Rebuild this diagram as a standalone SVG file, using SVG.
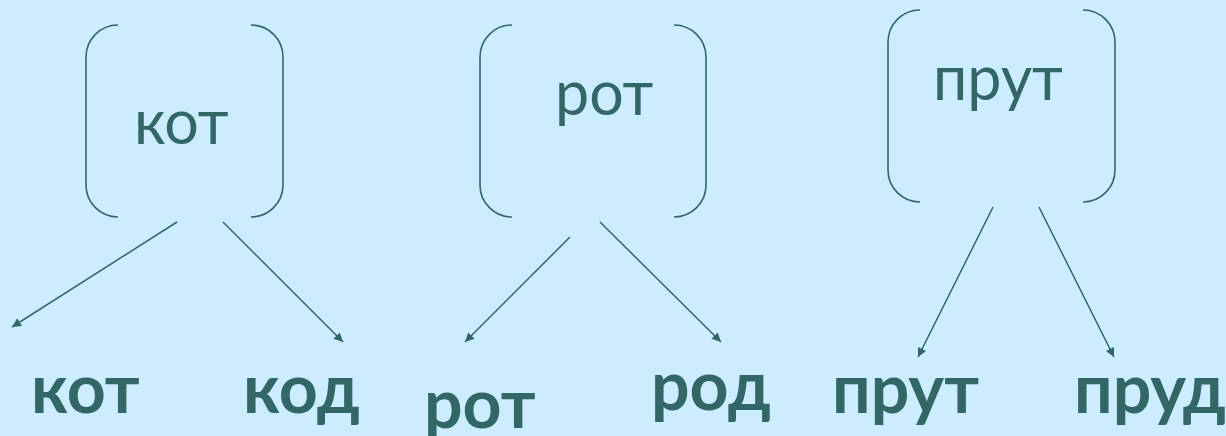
<svg xmlns="http://www.w3.org/2000/svg" width="1226" height="436" viewBox="0 0 1226 436">
<style>
.br{fill:none;stroke:#336666;stroke-width:1.6}
.cn{fill:none;stroke:#336666;stroke-width:1.5;marker-end:url(#ah)}
.t{font-family:"Lato","Open Sans",sans-serif;fill:#336666;font-size:61px}
.b{font-family:"Lato","Open Sans",sans-serif;fill:#336666;font-size:68px;font-weight:bold}
</style>
<defs>
<marker id="ah" viewBox="0 0 10 10" refX="10" refY="5" markerWidth="11" markerHeight="9" markerUnits="userSpaceOnUse" orient="auto">
<path d="M0,0 L10,5 L0,10 Z" fill="#336666"/>
</marker>
</defs>
<rect width="1226" height="436" fill="#CCECFF"/>
<g id="node-kot">
<path class="br" d="M118,25 A32,32 0 0 0 86,57 V185 A32,32 0 0 0 118,217"/>
<path class="br" d="M251,25 A32,32 0 0 1 283,57 V185 A32,32 0 0 1 251,217"/>
<text class="t" x="134" y="144">кот</text>
</g>
<g id="node-rot">
<path class="br" d="M512,25 A32,32 0 0 0 480,57 V185 A32,32 0 0 0 512,217"/>
<path class="br" d="M674,25 A32,32 0 0 1 706,57 V185 A32,32 0 0 1 674,217"/>
<text class="t" x="555" y="115">рот</text>
</g>
<g id="node-prut">
<path class="br" d="M920,10 A32,32 0 0 0 888,42 V170 A32,32 0 0 0 920,202"/>
<path class="br" d="M1083,10 A32,32 0 0 1 1115,42 V170 A32,32 0 0 1 1083,202"/>
<text class="t" x="933" y="100">прут</text>
</g>
<g id="leaf-kot"><text class="b" x="31" y="413">кот</text></g>
<g id="leaf-kod"><text class="b" x="243" y="413">код</text></g>
<g id="leaf-rot"><text class="b" x="424" y="428">рот</text></g>
<g id="leaf-rod"><text class="b" x="651" y="410">род</text></g>
<g id="leaf-prut"><text class="b" x="832" y="413">прут</text></g>
<g id="leaf-prud"><text class="b" x="1074" y="413">пруд</text></g>
<g id="connectors">
<line class="cn" x1="177" y1="222" x2="12" y2="327"/>
<line class="cn" x1="223" y1="222" x2="343" y2="342"/>
<line class="cn" x1="570" y1="237" x2="465" y2="342"/>
<line class="cn" x1="600" y1="222" x2="721" y2="342"/>
<line class="cn" x1="993" y1="207" x2="918" y2="357"/>
<line class="cn" x1="1039" y1="207" x2="1114" y2="357"/>
</g>
</svg>
